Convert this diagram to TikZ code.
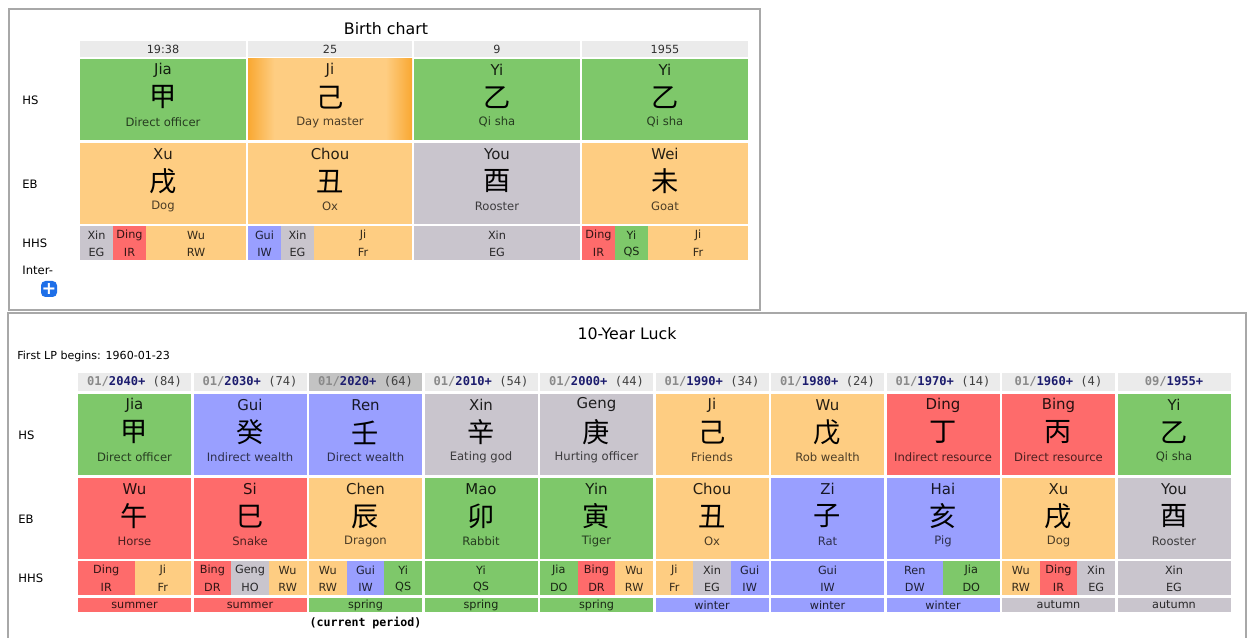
\documentclass[tikz,border=0pt]{standalone}
\usepackage{fontspec}
\setmainfont{DejaVu Sans}
\setmonofont{DejaVu Sans Mono}
\newfontfamily\cjk{Noto Sans CJK SC}
\usetikzlibrary{calc}

\definecolor{wood}{HTML}{7EC86A}
\definecolor{earth}{HTML}{FECD82}
\definecolor{metal}{HTML}{C9C5CD}
\definecolor{fire}{HTML}{FE6B6B}
\definecolor{water}{HTML}{999FFF}
\definecolor{headgray}{HTML}{EBEBEB}
\definecolor{curgray}{HTML}{C3C3C3}
\definecolor{framegray}{HTML}{A8A8A8}
\definecolor{navy}{HTML}{1C1C6E}
\definecolor{hdgray}{HTML}{8A8A8A}
\definecolor{dayedge}{HTML}{F9A832}
\definecolor{btnblue}{HTML}{1E6FE8}

\pgfdeclarehorizontalshading{daymaster}{100bp}{color(0bp)=(dayedge); color(25bp)=(dayedge); color(33bp)=(earth); color(67bp)=(earth); color(75bp)=(dayedge); color(100bp)=(dayedge)}

\tikzset{
	py/.style={font=\fontsize{8.5}{10}\selectfont, text=black, text opacity=0.85, inner sep=0pt},
	han/.style={font=\cjk\fontsize{15.5}{17}\selectfont, inner sep=0pt},
	role/.style={font=\fontsize{6.6}{8}\selectfont, text=black, text opacity=0.7, inner sep=0pt},
	tiny/.style={font=\fontsize{6.4}{8}\selectfont, text=black, text opacity=0.8, inner sep=0pt},
	rowlab/.style={font=\fontsize{6.6}{8}\selectfont, anchor=west, inner sep=0pt},
	ttl/.style={font=\fontsize{9}{11}\selectfont, inner sep=0pt},
	lphd/.style={font=\ttfamily\bfseries\fontsize{6.9}{8}\selectfont, inner sep=0pt},
	frame/.style={draw=framegray, line width=0.6pt},
}

\newcommand{\pillar}[8]{%
	\fill[#5] (#2,#3) rectangle ++(#4,81);
	\node[py] (#1py) at ({#2+#4/2},{#3+11}) {#6};
	\node[han] (#1han) at ({#2+#4/2},{#3+38.5}) {#7};
	\node[role] (#1role) at ({#2+#4/2},{#3+63}) {#8};
}
\newcommand{\hiddenstem}[7]{%
	\fill[#5] (#2,#3) rectangle ++(#4,34);
	\node[tiny] (#1a) at ({#2+#4/2},{#3+9}) {#6};
	\node[tiny] (#1b) at ({#2+#4/2},{#3+26}) {#7};
}
\newcommand{\age}[1]{\ \textmd{\textcolor{black!75}{(#1)}}}
\newcommand{\lphead}[6]{%
	\fill[#3] (#2,373) rectangle ++(113,18);
	\node[lphd] (#1) at ({#2+56.5},382) {\textcolor{hdgray}{#4/}\textcolor{navy}{#5+}#6};
}
\newcommand{\season}[4]{%
	\fill[#3] (#2,598) rectangle ++(113,14);
	\node[tiny] (#1) at ({#2+56.5},605) {#4};
}

\begin{document}
\begin{tikzpicture}[x=0.02cm,y=-0.02cm]
	\useasboundingbox (0,0) rectangle (1250,638);
	\fill[white] (0,0) rectangle (1250,638);

	% birth chart
	\draw[frame] (9,9) rectangle (760,310);
	\node[ttl] (bctitle) at (386,29) {Birth chart};
	\node[rowlab] (bchs) at (22,100) {HS};
	\node[rowlab] (bceb) at (22,184) {EB};
	\node[rowlab] (bchhs) at (22,243) {HHS};
	\node[rowlab] (bcinter) at (22,270) {Inter-};
	\fill[btnblue, rounded corners=2.5pt] (41,281) rectangle (57,297);
	\node[font=\bfseries\fontsize{10}{10}\selectfont, text=white, inner sep=0pt] (bcplus) at (49,288.5) {+};

	\fill[headgray] (80,41) rectangle ++(166,16);
	\fill[headgray] (248,41) rectangle ++(164,16);
	\fill[headgray] (414,41) rectangle ++(166,16);
	\fill[headgray] (582,41) rectangle ++(166,16);
	\node[tiny] (bchour) at (163,49) {19:38};
	\node[tiny] (bcday) at (330,49) {25};
	\node[tiny] (bcmonth) at (497,49) {9};
	\node[tiny] (bcyear) at (665,49) {1955};

	\pillar{bh1}{80}{59}{166}{wood}{Jia}{甲}{Direct officer}
	\pillar{bh2}{248}{59}{164}{shading=daymaster}{Ji}{己}{Day master}
	\pillar{bh3}{414}{59}{166}{wood}{Yi}{乙}{Qi sha}
	\pillar{bh4}{582}{59}{166}{wood}{Yi}{乙}{Qi sha}

	\pillar{be1}{80}{143}{166}{earth}{Xu}{戌}{Dog}
	\pillar{be2}{248}{143}{164}{earth}{Chou}{丑}{Ox}
	\pillar{be3}{414}{143}{166}{metal}{You}{酉}{Rooster}
	\pillar{be4}{582}{143}{166}{earth}{Wei}{未}{Goat}

	\hiddenstem{bx1}{80}{226}{33}{metal}{Xin}{EG}
	\hiddenstem{bx2}{113}{226}{33}{fire}{Ding}{IR}
	\hiddenstem{bx3}{146}{226}{100}{earth}{Wu}{RW}
	\hiddenstem{bx4}{248}{226}{33}{water}{Gui}{IW}
	\hiddenstem{bx5}{281}{226}{33}{metal}{Xin}{EG}
	\hiddenstem{bx6}{314}{226}{98}{earth}{Ji}{Fr}
	\hiddenstem{bx7}{414}{226}{166}{metal}{Xin}{EG}
	\hiddenstem{bx8}{582}{226}{33}{fire}{Ding}{IR}
	\hiddenstem{bx9}{615}{226}{33}{wood}{Yi}{QS}
	\hiddenstem{bx10}{648}{226}{100}{earth}{Ji}{Fr}

	% 10-year luck
	\draw[frame] (8,313) rectangle (1246,648);
	\node[ttl] (lptitle) at (627,334) {10-Year Luck};
	\node[rowlab, font=\fontsize{6.3}{8}\selectfont] (lpfirst) at (17,356) {First LP begins: 1960-01-23};
	\node[rowlab] (lphs) at (18,435) {HS};
	\node[rowlab] (lpeb) at (18,519) {EB};
	\node[rowlab] (lphhs) at (18,578) {HHS};

	\lphead{lh1}{78}{headgray}{01}{2040}{\age{84}}
	\lphead{lh2}{193.5}{headgray}{01}{2030}{\age{74}}
	\lphead{lh3}{309}{curgray}{01}{2020}{\age{64}}
	\lphead{lh4}{424.5}{headgray}{01}{2010}{\age{54}}
	\lphead{lh5}{540}{headgray}{01}{2000}{\age{44}}
	\lphead{lh6}{655.5}{headgray}{01}{1990}{\age{34}}
	\lphead{lh7}{771}{headgray}{01}{1980}{\age{24}}
	\lphead{lh8}{886.5}{headgray}{01}{1970}{\age{14}}
	\lphead{lh9}{1002}{headgray}{01}{1960}{\age{4}}
	\lphead{lh10}{1117.5}{headgray}{09}{1955}{}

	\pillar{ls1}{78}{394}{113}{wood}{Jia}{甲}{Direct officer}
	\pillar{ls2}{193.5}{394}{113}{water}{Gui}{癸}{Indirect wealth}
	\pillar{ls3}{309}{394}{113}{water}{Ren}{壬}{Direct wealth}
	\pillar{ls4}{424.5}{394}{113}{metal}{Xin}{辛}{Eating god}
	\pillar{ls5}{540}{394}{113}{metal}{Geng}{庚}{Hurting officer}
	\pillar{ls6}{655.5}{394}{113}{earth}{Ji}{己}{Friends}
	\pillar{ls7}{771}{394}{113}{earth}{Wu}{戊}{Rob wealth}
	\pillar{ls8}{886.5}{394}{113}{fire}{Ding}{丁}{Indirect resource}
	\pillar{ls9}{1002}{394}{113}{fire}{Bing}{丙}{Direct resource}
	\pillar{ls10}{1117.5}{394}{113}{wood}{Yi}{乙}{Qi sha}

	\pillar{lb1}{78}{478}{113}{fire}{Wu}{午}{Horse}
	\pillar{lb2}{193.5}{478}{113}{fire}{Si}{巳}{Snake}
	\pillar{lb3}{309}{478}{113}{earth}{Chen}{辰}{Dragon}
	\pillar{lb4}{424.5}{478}{113}{wood}{Mao}{卯}{Rabbit}
	\pillar{lb5}{540}{478}{113}{wood}{Yin}{寅}{Tiger}
	\pillar{lb6}{655.5}{478}{113}{earth}{Chou}{丑}{Ox}
	\pillar{lb7}{771}{478}{113}{water}{Zi}{子}{Rat}
	\pillar{lb8}{886.5}{478}{113}{water}{Hai}{亥}{Pig}
	\pillar{lb9}{1002}{478}{113}{earth}{Xu}{戌}{Dog}
	\pillar{lb10}{1117.5}{478}{113}{metal}{You}{酉}{Rooster}

	\hiddenstem{lx1a}{78}{561}{56.5}{fire}{Ding}{IR}
	\hiddenstem{lx1b}{134.5}{561}{56.5}{earth}{Ji}{Fr}
	\hiddenstem{lx2a}{193.5}{561}{37.67}{fire}{Bing}{DR}
	\hiddenstem{lx2b}{231.17}{561}{37.67}{metal}{Geng}{HO}
	\hiddenstem{lx2c}{268.83}{561}{37.67}{earth}{Wu}{RW}
	\hiddenstem{lx3a}{309}{561}{37.67}{earth}{Wu}{RW}
	\hiddenstem{lx3b}{346.67}{561}{37.67}{water}{Gui}{IW}
	\hiddenstem{lx3c}{384.33}{561}{37.67}{wood}{Yi}{QS}
	\hiddenstem{lx4a}{424.5}{561}{113}{wood}{Yi}{QS}
	\hiddenstem{lx5a}{540}{561}{37.67}{wood}{Jia}{DO}
	\hiddenstem{lx5b}{577.67}{561}{37.67}{fire}{Bing}{DR}
	\hiddenstem{lx5c}{615.33}{561}{37.67}{earth}{Wu}{RW}
	\hiddenstem{lx6a}{655.5}{561}{37.67}{earth}{Ji}{Fr}
	\hiddenstem{lx6b}{693.17}{561}{37.67}{metal}{Xin}{EG}
	\hiddenstem{lx6c}{730.83}{561}{37.67}{water}{Gui}{IW}
	\hiddenstem{lx7a}{771}{561}{113}{water}{Gui}{IW}
	\hiddenstem{lx8a}{886.5}{561}{56.5}{water}{Ren}{DW}
	\hiddenstem{lx8b}{943}{561}{56.5}{wood}{Jia}{DO}
	\hiddenstem{lx9a}{1002}{561}{37.67}{earth}{Wu}{RW}
	\hiddenstem{lx9b}{1039.67}{561}{37.67}{fire}{Ding}{IR}
	\hiddenstem{lx9c}{1077.33}{561}{37.67}{metal}{Xin}{EG}
	\hiddenstem{lx10a}{1117.5}{561}{113}{metal}{Xin}{EG}

	\season{ln1}{78}{fire}{summer}
	\season{ln2}{193.5}{fire}{summer}
	\season{ln3}{309}{wood}{spring}
	\season{ln4}{424.5}{wood}{spring}
	\season{ln5}{540}{wood}{spring}
	\season{ln6}{655.5}{water}{winter}
	\season{ln7}{771}{water}{winter}
	\season{ln8}{886.5}{water}{winter}
	\season{ln9}{1002}{metal}{autumn}
	\season{ln10}{1117.5}{metal}{autumn}
	\node[lphd, font=\ttfamily\bfseries\fontsize{6.6}{8}\selectfont] (lpcurrent) at (365.5,623) {(current period)};
\end{tikzpicture}
\end{document}
